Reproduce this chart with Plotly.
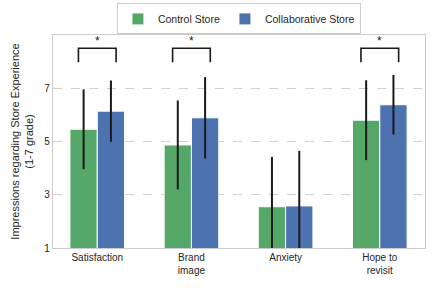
import plotly.graph_objects as go

categories = ["Satisfaction", "Brand<br>image", "Anxiety", "Hope to<br>revisit"]
control_mean = [5.46, 4.87, 2.55, 5.80]
control_sd = [1.50, 1.67, 1.87, 1.50]
collab_mean = [6.14, 5.89, 2.58, 6.38]
collab_sd = [1.15, 1.53, 2.07, 1.12]
significant = [True, True, False, True]
y_ticks = [1, 3, 5, 7]

x = list(range(len(categories)))
green = "#55A868"
blue = "#4C72B0"

fig = go.Figure()
fig.add_trace(go.Bar(
    x=x, y=control_mean, name="Control Store", width=0.29, offset=-0.29,
    marker=dict(color=green, line=dict(color="white", width=1)),
    error_y=dict(type="data", array=control_sd, color="#1a1a1a", thickness=2, width=0),
))
fig.add_trace(go.Bar(
    x=x, y=collab_mean, name="Collaborative Store", width=0.29, offset=0.0,
    marker=dict(color=blue, line=dict(color="white", width=1)),
    error_y=dict(type="data", array=collab_sd, color="#1a1a1a", thickness=2, width=0),
))

for i, sig in enumerate(significant):
    if sig:
        fig.add_shape(type="path",
                      path=f"M {i-0.2},7.98 L {i-0.2},8.5 L {i+0.2},8.5 L {i+0.2},7.98",
                      line=dict(color="#1a1a1a", width=1.6), xref="x", yref="y")
        fig.add_annotation(x=i, y=8.78, text="*", showarrow=False,
                           font=dict(size=12, color="#1a1a1a"), xref="x", yref="y")

fig.update_layout(
    width=436, height=291,
    margin=dict(l=53, r=11, t=35, b=43, autoexpand=False),
    plot_bgcolor="white", paper_bgcolor="white",
    font=dict(family="Liberation Sans, Arial, sans-serif", color="#262626"),
    barmode="overlay",
    showlegend=True,
    legend=dict(orientation="h", x=0.548, xanchor="center", xref="container",
                y=0.935, yanchor="middle", yref="container",
                bordercolor="#cccccc", borderwidth=1, font=dict(size=10.5),
                itemwidth=30, traceorder="normal"),
    xaxis=dict(range=[-0.47, 3.48], tickvals=x, ticktext=categories,
               tickfont=dict(size=10), showgrid=False, zeroline=False,
               showline=True, linecolor="#cccccc", linewidth=1.2, mirror=True, ticks=""),
    yaxis=dict(range=[1, 9], tickvals=y_ticks, tickfont=dict(size=10),
               showgrid=True, gridcolor="#d0d0d0", griddash="dash", gridwidth=1,
               zeroline=False, showline=True, linecolor="#cccccc", linewidth=1.2, mirror=True,
               ticks="", title=dict(text="Impressions regarding Store Experience<br>(1-7 grade)",
                                    font=dict(size=11), standoff=8)),
)

fig.write_html("out.html", config={"displayModeBar": False},
               post_script="document.body.style.margin='0px';")
